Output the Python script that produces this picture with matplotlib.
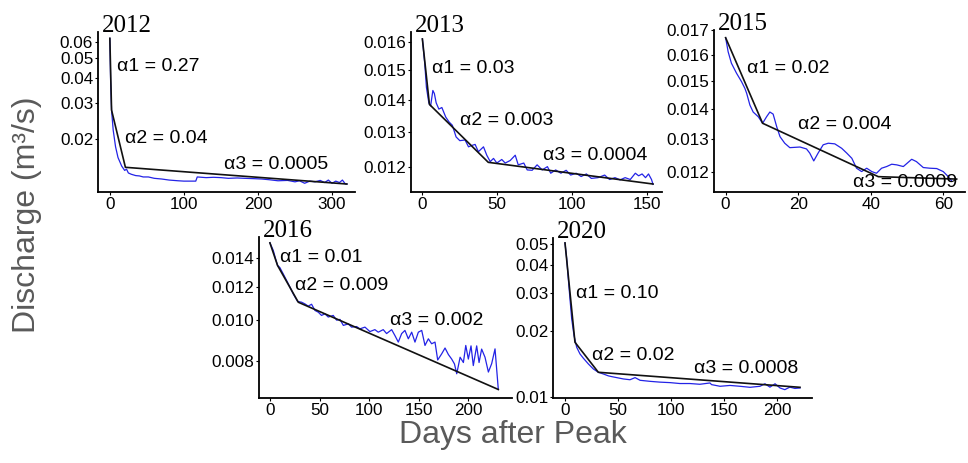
import matplotlib
matplotlib.use("Agg")
import matplotlib.pyplot as plt
from matplotlib.ticker import FixedLocator, FixedFormatter, NullLocator

# ---- data ----
years = ["2012", "2013", "2015", "2016", "2020"]

days12 = [0, 1, 2.3, 4.5, 7.7, 11, 16, 20, 22.5, 25, 29, 35, 40, 45, 52, 60, 70, 80, 92, 100,
          110, 116, 118, 130, 140, 150, 160, 172, 182, 195, 205, 215, 227, 240, 250, 256, 263, 270, 277, 284,
          290, 295, 300, 305, 310, 314, 318, 320]
q12 = [0.0623, 0.039, 0.0278, 0.0222, 0.0184, 0.0163, 0.0148, 0.0141, 0.0143, 0.0137,
       0.0135, 0.0133, 0.01325, 0.0131, 0.0131, 0.0129, 0.0128, 0.01265, 0.01255, 0.0125,
       0.0125, 0.0125, 0.0131, 0.0130, 0.01305, 0.0130, 0.0129, 0.01295, 0.0129, 0.01285,
       0.0128, 0.0127, 0.01255, 0.0126, 0.0124, 0.01255, 0.0122, 0.0125, 0.0124, 0.0126,
       0.0123, 0.01265, 0.0122, 0.0125, 0.0123, 0.01265, 0.0121, 0.0121]

days13 = [0, 1.6, 2.7, 4.3, 5.5, 7, 8, 9.2, 11, 13, 15.6, 17.8, 20, 22.5, 25, 28.5, 30.8, 33, 35.2, 37.4,
          40.8, 43, 45.3, 47.5, 49.7, 53, 55.3, 58.6, 62, 64, 67.7, 70, 73.3, 76.6, 80, 83.5, 85.7, 89, 92.5, 96,
          99, 102.7, 106, 109.5, 112.8, 117.3, 121.7, 125, 128.6, 132, 135.4, 138.8, 142.2, 144.4, 146.7, 149,
          151, 153, 154]
q13 = [0.0161, 0.0152, 0.0144, 0.0139, 0.0138, 0.0143, 0.0142, 0.0139, 0.0137, 0.01375,
       0.01345, 0.0133, 0.0132, 0.01285, 0.01274, 0.01276, 0.01256, 0.0126, 0.01263, 0.01242,
       0.01256, 0.01232, 0.01214, 0.01223, 0.0121, 0.0122, 0.0121, 0.01217, 0.01232, 0.01205,
       0.0121, 0.01191, 0.0119, 0.01205, 0.01191, 0.0120, 0.01182, 0.01191, 0.01182, 0.0119,
       0.01177, 0.01182, 0.01173, 0.0118, 0.01168, 0.0117, 0.01177, 0.01165, 0.0117, 0.01164,
       0.0117, 0.01165, 0.01182, 0.01175, 0.0118, 0.0117, 0.0118, 0.01165, 0.01152]

days15 = [0, 0.7, 1.6, 3, 4.4, 5.3, 5.8, 6.7, 7.6, 9, 10.2, 11.3, 12.2, 13.1, 14.1, 15, 16.3, 17.7, 20.5, 22.3,
          23.2, 24.3, 25.5, 26.9, 28.3, 30.1, 32, 33.4, 34.8, 36.1, 37.5, 38.9, 40.3, 41.6, 43, 44.4, 45.8, 47.2,
          49, 51.3, 52.6, 54.5, 56.3, 58.2, 60, 61.4, 62.3]
q15 = [0.0167, 0.01613, 0.01568, 0.0153, 0.01498, 0.01474, 0.01456, 0.01414, 0.0139, 0.01374,
       0.01352, 0.01374, 0.0139, 0.01383, 0.0134, 0.01308, 0.01287, 0.01273, 0.01275, 0.01269,
       0.01256, 0.01232, 0.01256, 0.01282, 0.01287, 0.01285, 0.01271, 0.01256, 0.0124, 0.0121,
       0.0120, 0.0121, 0.0120, 0.01195, 0.0121, 0.01215, 0.01222, 0.0122, 0.01215, 0.01237,
       0.0123, 0.01212, 0.0121, 0.01209, 0.0120, 0.01185, 0.01173]

days16 = [0, 3.4, 5.7, 7.7, 10, 13.4, 16.8, 20.2, 23.5, 27.9, 32, 35.3, 38.6, 42, 45.4, 48.8, 52, 55.5, 58.8,
          63.8, 67.2, 70.6, 74, 79, 82.3, 87.4, 90.7, 95.8, 100.8, 105.8, 109.2, 114.2, 117.6, 122.7, 126,
          129.4, 132.8, 136.1, 139.5, 142.9, 146.2, 149.6, 153, 156.3, 159.7, 163, 166.4, 169.1, 173.1, 176.5,
          179.9, 183.2, 186, 188.3, 191.7, 195, 197.4, 200, 202.7, 205, 208.4, 210.8, 213.4, 216.8, 220.2,
          223.5, 226.9, 230.2]
q16 = [0.0152, 0.01459, 0.01394, 0.01345, 0.0133, 0.01285, 0.0124, 0.01196, 0.01153, 0.01107,
       0.01102, 0.01092, 0.01079, 0.0109, 0.01054, 0.01044, 0.01026, 0.01035, 0.01017, 0.01026,
       0.0100, 0.01004, 0.00972, 0.0098, 0.00963, 0.00966, 0.00954, 0.00963, 0.0094, 0.0095,
       0.00937, 0.0095, 0.0093, 0.0095, 0.0092, 0.00888, 0.0093, 0.00946, 0.00904, 0.00937,
       0.00888, 0.00937, 0.00946, 0.00872, 0.00904, 0.0088, 0.00888, 0.00806, 0.00833, 0.0086,
       0.0083, 0.0081, 0.00789, 0.00748, 0.00818, 0.00795, 0.00872, 0.0081, 0.0087, 0.00782,
       0.0087, 0.00795, 0.00855, 0.00818, 0.00755, 0.0079, 0.00856, 0.00687]

days20 = [0, 1.6, 3.1, 4.7, 6.3, 8.5, 11, 14.1, 17.3, 22, 26.7, 31.4, 36.1, 40.8, 44, 48.7, 55, 61.2, 66, 70.7,
          80, 89.5, 99, 108.2, 117.6, 127, 136.5, 138, 146, 155.4, 164.8, 174.2, 183.6, 188.3, 193, 197.8,
          202.5, 207, 211.7, 216.5, 221.3]
q20 = [0.0507, 0.0429, 0.0348, 0.0281, 0.0228, 0.0191, 0.0169, 0.01575, 0.01505, 0.01417,
       0.01344, 0.01298, 0.01275, 0.0125, 0.0124, 0.01227, 0.0121, 0.0120, 0.01227, 0.01193,
       0.0118, 0.0117, 0.01164, 0.01153, 0.01153, 0.01144, 0.0116, 0.0114, 0.0112, 0.0113,
       0.0112, 0.01108, 0.0112, 0.0115, 0.0111, 0.0115, 0.0110, 0.01081, 0.0111, 0.01095, 0.0110]

# three-segment recession fits (breakpoints)
fit12_days, fit12_q = [0, 2.3, 21, 320], [0.0623, 0.0278, 0.0146, 0.0121]
fit13_days, fit13_q = [0, 4.7, 44, 154], [0.0161, 0.01385, 0.01212, 0.01153]
fit15_days, fit15_q = [0, 10.2, 42.1, 63.7], [0.0167, 0.01352, 0.01185, 0.01178]
fit16_days, fit16_q = [0, 7.7, 28.6, 230.2], [0.0152, 0.01345, 0.01102, 0.00687]
fit20_days, fit20_q = [0, 9.4, 31.4, 221.3], [0.0507, 0.0178, 0.01298, 0.01108]

alpha12 = ["α1 = 0.27", "α2 = 0.04", "α3 = 0.0005"]
alpha13 = ["α1 = 0.03", "α2 = 0.003", "α3 = 0.0004"]
alpha15 = ["α1 = 0.02", "α2 = 0.004", "α3 = 0.0009"]
alpha16 = ["α1 = 0.01", "α2 = 0.009", "α3 = 0.002"]
alpha20 = ["α1 = 0.10", "α2 = 0.02", "α3 = 0.0008"]

xticks12 = [0, 100, 200, 300]
xticks13 = [0, 50, 100, 150]
xticks15 = [0, 20, 40, 60]
xticks16 = [0, 50, 100, 150, 200]
xticks20 = [0, 50, 100, 150, 200]

yticks12 = [0.02, 0.03, 0.04, 0.05, 0.06]
ylabels12 = ["0.02", "0.03", "0.04", "0.05", "0.06"]
yticks13 = [0.012, 0.013, 0.014, 0.015, 0.016]
ylabels13 = ["0.012", "0.013", "0.014", "0.015", "0.016"]
yticks15 = [0.012, 0.013, 0.014, 0.015, 0.016, 0.017]
ylabels15 = ["0.012", "0.013", "0.014", "0.015", "0.016", "0.017"]
yticks16 = [0.008, 0.010, 0.012, 0.014]
ylabels16 = ["0.008", "0.010", "0.012", "0.014"]
yticks20 = [0.01, 0.02, 0.03, 0.04, 0.05]
ylabels20 = ["0.01", "0.02", "0.03", "0.04", "0.05"]

# ---- layout (pixels: left, top, right, bottom), limits, label spots ----
W, H = 968, 463
panels = [
    dict(year=years[0], d=days12, q=q12, fd=fit12_days, fq=fit12_q, al=alpha12,
         xt=xticks12, yt=yticks12, yl=ylabels12, box=(98, 32, 355, 192),
         xlim=(-16, 331), ylim=(0.01106, 0.0669),
         apos=[(0.073, 0.783), (0.105, 0.336), (0.491, 0.169)]),
    dict(year=years[1], d=days13, q=q13, fd=fit13_days, fq=fit13_q, al=alpha13,
         xt=xticks13, yt=yticks13, yl=ylabels13, box=(411, 32, 662, 192),
         xlim=(-7.6, 160), ylim=(0.01132, 0.01636),
         apos=[(0.082, 0.773), (0.195, 0.446), (0.525, 0.231)]),
    dict(year=years[2], d=days15, q=q15, fd=fit15_days, fq=fit15_q, al=alpha15,
         xt=xticks15, yt=yticks15, yl=ylabels15, box=(714, 30, 965, 192),
         xlim=(-3.2, 66), ylim=(0.01141, 0.01702),
         apos=[(0.133, 0.764), (0.336, 0.414), (0.553, 0.057)]),
    dict(year=years[3], d=days16, q=q16, fd=fit16_days, fq=fit16_q, al=alpha16,
         xt=xticks16, yt=yticks16, yl=ylabels16, box=(259, 237, 512, 398),
         xlim=(-11, 244), ylim=(0.00656, 0.01569),
         apos=[(0.083, 0.871), (0.142, 0.696), (0.518, 0.484)]),
    dict(year=years[4], d=days20, q=q20, fd=fit20_days, fq=fit20_q, al=alpha20,
         xt=xticks20, yt=yticks20, yl=ylabels20, box=(553, 238, 812, 398),
         xlim=(-11.3, 232.6), ylim=(0.0099, 0.0534),
         apos=[(0.088, 0.654), (0.149, 0.264), (0.544, 0.186)]),
]

sans = ["Liberation Sans", "DejaVu Sans"]
serif = ["Liberation Serif", "DejaVu Serif"]

fig = plt.figure(figsize=(W / 100, H / 100), dpi=100)

for p in panels:
    l, t, r, b = p["box"]
    ax = fig.add_axes([l / W, 1 - b / H, (r - l) / W, (b - t) / H])
    ax.set_yscale("log")
    ax.plot(p["d"], p["q"], color="#2323e6", lw=0.9, zorder=2)
    ax.plot(p["fd"], p["fq"], color="#111111", lw=1.2, zorder=3)
    ax.set_xlim(*p["xlim"])
    ax.set_ylim(*p["ylim"])
    ax.xaxis.set_major_locator(FixedLocator(p["xt"]))
    ax.yaxis.set_major_locator(FixedLocator(p["yt"]))
    ax.yaxis.set_major_formatter(FixedFormatter(p["yl"]))
    ax.yaxis.set_minor_locator(NullLocator())
    ax.xaxis.set_minor_locator(NullLocator())
    for s in ["top", "right"]:
        ax.spines[s].set_visible(False)
    for s in ["left", "bottom"]:
        ax.spines[s].set_linewidth(1.3)
    ax.tick_params(length=2, width=0.8, pad=1.5, labelsize=12.3, colors="black")
    for lab in ax.get_xticklabels() + ax.get_yticklabels():
        lab.set_family(sans)
    for txt, (ax_x, ax_y) in zip(p["al"], p["apos"]):
        ax.text(ax_x, ax_y, txt, transform=ax.transAxes, ha="left", va="center",
                fontsize=14, family=sans, color="black", zorder=4)
    fig.text((l + 4) / W, 1 - (t + 0.5) / H, p["year"], family=serif, fontsize=18,
             ha="left", va="baseline")

fig.text(27 / W, 1 - 215 / H, "Discharge (m³/s)", rotation=90, ha="center", va="center",
         fontsize=23, family=sans, color="#5a5a5a")
fig.text(513 / W, 1 - 435 / H, "Days after Peak", ha="center", va="center",
         fontsize=23, family=sans, color="#5a5a5a")

fig.savefig("out.png", dpi=100)
